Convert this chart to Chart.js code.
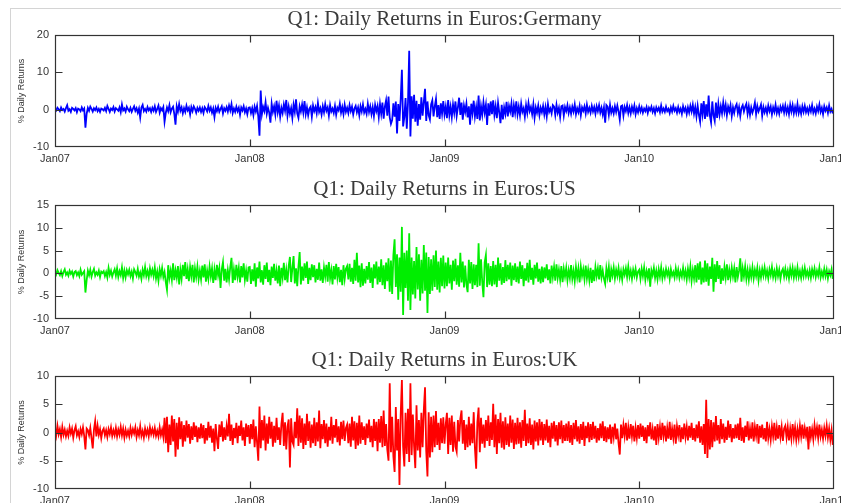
<!DOCTYPE html>
<html>
<head>
<meta charset="utf-8">
<script src="https://cdn.jsdelivr.net/npm/chart.js@4"></script>
<style>
  html, body { margin: 0; padding: 0; background: #fff; width: 841px; height: 503px; overflow: hidden; }
  #frame { position: absolute; left: 10px; top: 8px; width: 900px; height: 600px;
           border-left: 1px solid #d4d4d4; border-top: 1px solid #d4d4d4; }
  .panel { position: absolute; left: 0; width: 841px; height: 170px; }
  canvas { display: block; }
</style>
</head>
<body>
<div id="frame"></div>
<div class="panel" style="top:0px"><canvas id="c0" width="841" height="170"></canvas></div>
<div class="panel" style="top:170px"><canvas id="c1" width="841" height="170"></canvas></div>
<div class="panel" style="top:341px"><canvas id="c2" width="841" height="170"></canvas></div>
<script>
// Calendar ticks on the time axis (Jan 2007 .. Jan 2011), 160 samples per year
const xTickLabels = ['Jan07', 'Jan08', 'Jan09', 'Jan10', 'Jan11'];
const samplesPerYear = 160;

// % daily returns, two rows per quarter (40 samples per quarter)
const germanyReturns = [
  0.3,-0.2,0.5,0.1,-0.4,0.6,-0.1,0.2,-0.5,0.4,1.2,-0.3,0.1,-0.6,0.5,0.2,-0.2,0.4,-0.7,0.3,
  0.1,-0.4,0.6,-0.2,0.3,-4.8,-1.1,0.5,-0.3,0.8,0.2,-0.5,0.4,-0.1,0.6,-0.4,0.2,-0.6,0.3,0.1,
  -0.2,0.5,-0.4,1.0,0.2,-0.6,0.3,-0.1,0.7,-0.5,0.4,0.1,-0.3,0.6,-0.7,1.4,-0.2,0.3,-0.5,0.8,
  0.1,-0.4,0.5,-0.6,0.2,0.9,-0.3,0.4,-0.8,0.3,-2.1,0.6,1.3,-0.4,0.2,-0.5,0.7,-0.2,0.4,-0.6,
  0.5,-0.3,0.9,-0.6,0.2,1.1,-0.8,0.4,-0.2,0.7,-3.2,-0.9,0.6,-0.4,1.2,-0.7,0.3,0.8,-1.1,-4.0,
  0.9,-0.5,1.5,-0.3,0.6,-1.0,0.4,-0.6,1.1,-0.2,0.5,-1.3,0.7,-0.4,0.9,0.2,-0.8,0.5,-0.3,0.6,
  -0.6,0.4,-0.9,0.7,0.2,-0.5,1.0,-0.3,0.6,-0.8,0.3,-2.0,0.5,-0.4,0.8,-0.6,0.2,0.9,-1.0,0.4,
  -0.3,0.7,-0.5,1.1,-0.2,1.5,-0.9,0.3,-0.6,0.8,-0.4,0.5,-1.4,0.6,-0.2,0.9,-0.7,0.3,-1.2,0.5,
  0.6,-0.9,0.4,-1.5,0.8,-0.5,1.0,-1.8,-7.0,5.1,-1.2,0.7,-0.4,2.0,-1.1,0.5,-0.8,-3.5,1.6,-0.6,
  0.9,-1.3,2.4,-0.7,1.1,-1.9,0.5,-0.9,1.4,-0.3,2.6,-1.6,0.8,-1.1,0.4,-2.2,1.3,-0.6,2.8,-1.0,
  -2.2,0.9,-0.5,1.4,-0.8,2.3,-1.2,0.6,-1.5,0.3,0.8,-1.9,1.1,-0.4,0.7,-1.0,1.8,-0.6,0.4,-1.3,
  0.9,-0.7,1.5,-0.3,0.6,-1.6,1.2,-0.5,0.3,-0.9,1.0,-1.4,0.5,-0.2,1.6,-0.8,0.7,-1.2,1.3,-0.6,
  0.5,-0.9,1.2,-0.4,0.8,-1.3,0.3,1.0,-0.7,0.6,-1.5,0.9,-0.5,1.4,-0.8,0.2,-1.1,1.6,-0.6,0.9,
  -1.2,0.7,-1.7,1.3,-0.4,1.0,-2.0,1.5,-1.1,1.9,-2.4,0.8,2.5,-1.6,3.5,-2.1,-3.8,-2.8,1.7,-1.9,
  2.2,-6.4,1.5,-3.0,2.8,10.7,-4.5,-2.0,3.1,-5.1,1.8,15.8,-7.2,3.6,-2.4,4.0,-3.2,2.4,-4.3,1.5,
  -2.7,3.3,-1.6,2.1,5.6,-3.0,2.2,-1.5,-2.6,1.4,2.5,-1.8,0.9,2.9,-2.0,1.2,-2.5,1.7,-1.1,2.3,
  -1.3,0.8,-2.3,2.6,-1.5,0.8,-2.0,1.4,-0.9,2.2,-1.7,0.6,3.2,-1.4,1.9,-2.7,1.1,-0.6,1.6,-2.1,
  0.9,-4.0,1.6,-1.0,2.4,-1.8,0.7,-2.5,3.8,-2.9,0.9,-1.4,2.0,-0.8,1.3,-4.1,1.7,-1.6,2.2,-1.2,
  2.5,-1.4,0.9,-2.3,1.8,-0.7,-3.6,1.3,-2.6,0.6,-1.1,2.1,-1.8,1.0,-0.5,1.7,-2.0,1.2,-0.9,2.2,
  -1.3,0.8,-1.5,1.6,-0.6,0.4,-1.9,1.2,-0.9,1.8,-0.4,0.7,-1.2,1.4,-2.2,0.6,-0.8,1.1,-1.5,0.5,
  -0.7,1.0,-1.3,0.7,-1.8,1.5,-0.6,0.3,-1.0,1.2,0.8,-1.4,1.3,-0.8,0.5,-2.0,0.9,1.1,-1.6,0.7,
  -0.4,1.2,-0.9,0.6,-1.1,0.8,-0.5,1.4,-1.2,0.4,-0.7,1.0,-1.5,0.6,-0.3,0.9,-1.0,1.3,-0.6,0.5,
  -0.8,1.0,-0.5,0.7,-1.1,0.9,-0.4,1.2,-0.8,0.5,-1.3,0.6,-3.5,1.2,0.8,-1.4,1.3,-0.8,0.4,-1.0,
  0.9,-0.6,1.1,-0.5,-2.7,0.9,1.1,-1.6,0.7,-0.4,1.2,-0.9,0.6,-1.0,0.8,-0.5,1.1,-1.2,0.4,-0.7,
  0.9,-0.5,0.6,-0.8,0.3,-0.4,0.7,-0.9,0.5,-0.2,0.8,-0.6,0.4,-1.0,0.6,-0.3,0.5,-0.7,1.1,-0.5,
  0.3,-0.6,0.8,-0.4,0.2,-0.9,0.6,-0.5,1.0,-0.3,0.4,-0.8,0.7,-0.6,0.3,-1.1,0.9,-0.4,0.5,-1.2,
  0.6,-0.8,1.0,-0.5,1.3,-1.1,0.7,-1.8,1.0,-1.4,-3.2,1.7,-1.2,2.3,-2.5,1.4,-1.9,3.8,-1.6,-3.4,
  2.2,-1.5,-3.0,1.9,-2.2,1.5,-1.3,0.9,-1.0,1.9,-0.6,1.3,-1.5,0.8,-0.5,1.2,-1.7,0.6,-0.9,0.8,
  1.5,-0.9,0.7,-1.7,0.5,1.2,-0.5,0.8,1.6,-1.1,0.9,-1.4,0.6,-0.8,0.3,1.9,-1.2,1.0,-0.5,0.4,
  1.4,-1.6,0.7,-0.7,0.5,-1.0,1.1,-0.4,0.8,-1.3,0.6,-0.6,1.3,-0.9,0.4,-1.1,0.8,-0.3,1.0,-0.8,
  1.1,-0.8,0.6,-1.2,1.3,-0.5,1.2,-1.0,0.7,-0.8,1.5,-0.9,0.5,-1.1,0.9,-0.6,1.0,-0.7,0.4,-0.9,
  0.7,-0.5,1.2,-0.8,0.3,-1.0,0.8,-0.4,1.4,-0.6,0.5,-1.2,0.9,-0.3,0.6,-0.9,1.1,-0.5,0.2,-1.0
];

const usReturns = [
  0.4,-0.2,0.7,0.1,-0.4,0.5,-0.6,0.3,0.9,-0.3,0.2,-0.5,0.6,-0.1,0.4,-0.7,0.3,0.5,-0.4,0.2,
  -0.6,0.8,-0.3,0.1,0.5,-4.2,-1.5,0.6,-0.4,0.8,-0.7,0.3,1.0,-0.5,0.2,-0.3,0.6,-0.8,0.4,0.1,
  0.5,-0.6,0.3,-0.9,1.2,-0.3,0.6,-0.7,0.2,0.9,-0.5,1.1,-0.8,0.5,-0.4,1.3,-1.0,0.6,-0.9,0.7,
  -0.2,0.8,-0.6,0.4,-1.1,0.9,0.3,-0.5,1.0,-0.7,0.2,-1.2,0.8,-0.4,1.4,-0.6,0.5,-0.9,1.1,-0.3,
  0.8,-0.6,1.3,-1.1,0.4,-1.6,0.9,-0.5,1.2,-0.8,0.3,-1.9,-3.6,1.8,-1.0,0.6,-1.4,2.2,-1.5,0.7,
  -0.9,1.6,-2.4,0.8,-1.2,1.9,-0.6,2.5,-1.2,0.9,-1.7,1.4,-0.6,1.9,-2.0,1.1,-0.8,1.5,-1.3,0.6,
  -1.3,1.7,-0.9,2.0,-1.8,0.6,-1.2,1.5,-0.7,1.1,-2.1,0.8,-1.5,1.9,-0.4,1.2,-3.2,0.9,2.5,-1.6,
  1.0,-2.0,0.7,-1.3,1.4,3.4,-2.1,0.8,-1.5,1.9,-0.7,1.2,-2.0,1.6,-0.9,2.2,-1.4,0.6,-1.8,1.3,
  1.4,-2.3,0.9,-1.7,2.2,-2.9,1.3,-1.1,2.6,-2.0,0.7,-2.5,1.8,-1.2,2.4,-1.9,0.8,-2.6,1.5,-1.0,
  2.1,-1.6,0.6,-2.2,1.7,-2.8,1.2,-0.9,2.3,-1.5,0.8,-2.0,1.6,3.6,-1.9,1.1,3.8,-2.2,1.1,-2.8,
  1.5,4.7,-2.4,1.5,-1.6,2.2,-1.0,2.6,-2.3,1.2,-1.5,2.0,-0.8,1.8,-2.0,1.0,-1.4,2.4,-1.6,0.9,
  -2.1,1.3,-0.7,1.9,-1.8,2.5,-1.1,0.7,-2.4,1.6,-1.3,2.1,-0.9,1.4,-1.9,0.8,-2.6,1.8,-1.2,1.0,
  1.6,-1.3,2.1,-1.8,1.2,-2.3,3.0,-1.6,4.5,-2.0,1.7,-3.0,2.2,-2.7,1.0,-2.2,1.6,-1.4,2.5,-2.1,
  1.3,-3.2,2.0,-1.1,2.6,-2.4,1.5,-1.9,3.1,-2.6,1.8,-3.4,2.4,-1.7,3.3,-4.0,2.8,-4.5,4.0,7.5,
  -3.0,4.2,-5.8,3.5,-4.0,10.2,-9.1,4.5,-3.2,5.0,-6.0,8.8,-8.0,3.5,-4.6,2.7,-5.5,5.8,-3.5,4.2,
  -6.0,3.0,-4.4,6.2,-3.8,4.6,-8.7,3.6,-4.5,3.1,-3.8,4.0,-3.0,5.0,-3.6,2.6,-4.2,3.4,-2.8,3.9,
  -3.3,2.4,-2.8,3.5,-2.2,1.9,-3.6,2.8,-1.7,3.2,-2.5,1.8,-2.9,4.5,-2.0,2.6,-3.1,1.7,-2.4,-4.1,
  3.0,-2.2,2.5,-3.4,2.0,-2.6,1.9,-3.0,6.6,-2.7,3.1,-1.9,-5.2,2.4,4.0,-3.0,2.2,-2.5,1.6,-2.8,
  2.7,-2.4,1.9,-3.0,3.5,-1.6,2.2,-2.5,1.4,-2.1,2.9,-1.7,1.9,-1.3,2.4,-2.7,1.7,-1.5,2.2,-1.9,
  1.5,-2.2,2.6,-1.2,1.8,-2.8,1.1,-1.6,2.3,-2.0,3.0,-1.4,1.2,-2.5,1.9,-1.1,2.4,-1.8,1.0,-2.2,
  1.5,-1.9,1.3,-1.1,2.0,-1.5,0.9,-2.2,1.7,-0.8,1.4,-1.6,2.0,-1.0,0.8,-1.4,1.6,-1.9,1.0,-0.7,
  1.2,-1.5,0.7,-1.0,1.8,-1.2,0.6,-1.7,1.4,-0.9,1.1,-2.0,1.5,-0.6,0.9,-1.3,1.7,-1.1,0.8,-1.5,
  1.2,-2.1,0.8,-1.7,1.4,-0.6,1.1,-1.3,1.8,-0.9,0.6,-1.2,-2.3,1.1,-0.8,1.4,-1.9,0.9,-0.5,1.3,
  -1.1,0.8,-0.6,1.2,-1.0,0.5,-1.4,0.9,-0.3,1.1,-0.8,1.5,-0.7,0.6,-1.2,0.8,-0.5,1.0,-0.9,0.4,
  0.8,-1.2,1.0,-0.6,1.3,-1.4,0.5,-0.9,1.1,-2.9,0.7,-0.4,1.2,-1.0,0.6,-1.3,0.9,-0.7,1.3,-1.1,
  0.5,-0.8,1.0,-0.4,0.7,-1.2,0.9,-0.5,0.3,-0.9,1.1,-0.6,0.8,-1.0,0.4,-0.7,1.2,-0.8,0.6,-1.3,
  1.0,-0.8,1.5,-1.6,0.7,-1.1,1.8,-2.0,2.2,-1.4,2.6,-2.4,1.3,-2.0,2.8,-1.8,2.2,-2.7,1.5,-1.2,
  3.4,-4.0,2.0,-1.9,2.7,-1.2,1.8,-2.3,1.1,-1.6,1.4,-0.9,2.0,-1.5,0.8,-1.0,1.3,-0.7,1.1,-2.0,
  1.4,-0.8,0.6,3.3,-1.8,1.1,-0.7,1.5,-1.2,0.8,-1.4,0.9,-0.8,1.3,-1.1,0.8,-0.6,1.2,-1.5,0.7,
  -0.9,1.0,-0.5,1.3,-0.7,0.6,-1.1,0.9,-0.4,1.4,-0.8,0.5,-1.0,1.1,-0.6,0.8,-1.2,0.4,1.0,-0.7,
  1.0,-0.7,0.6,-1.1,1.1,-0.5,1.2,-0.9,0.8,-0.7,1.3,-0.8,0.5,-1.0,0.9,-0.6,1.2,-0.6,0.5,-0.8,
  0.7,-1.0,0.9,-0.4,1.1,-0.8,0.6,-0.5,1.3,-0.9,0.4,-0.7,1.0,-0.6,0.8,-1.1,0.5,-0.4,0.9,-1.2
];

const ukReturns = [
  0.8,-0.5,1.2,-0.3,0.6,-0.8,1.0,-0.4,0.5,-0.7,0.3,-0.6,0.9,-0.2,0.7,-0.9,0.4,1.1,-0.5,0.2,
  -0.8,0.6,-0.3,0.9,-0.6,-3.0,0.7,0.4,-0.5,0.8,-1.0,-2.8,0.5,2.0,-0.7,1.2,-0.4,0.6,-1.0,0.3,
  0.7,-0.5,0.4,-0.8,0.6,-0.3,0.9,-0.6,0.4,-0.5,0.8,-0.7,0.5,-0.4,1.0,-0.5,0.7,-0.9,0.5,-0.6,
  0.3,-0.7,0.8,-0.4,0.6,-0.2,0.9,-0.8,0.4,-0.5,1.1,-0.6,0.3,-0.9,0.7,-0.4,0.5,-0.7,0.9,-0.3,
  0.6,-0.4,0.8,-0.6,0.3,-0.7,0.9,-0.5,0.5,-0.8,2.6,-1.9,2.8,-3.5,1.4,-2.2,3.0,-1.6,2.4,-4.3,
  1.7,-3.0,2.7,-1.2,2.0,-2.5,1.3,-1.6,2.1,-0.9,1.5,-2.0,1.1,-1.3,1.8,-0.8,1.2,-1.7,0.9,-1.1,
  1.6,-1.0,1.3,-2.0,0.8,-1.4,1.9,-0.9,1.2,-1.8,0.7,-3.3,1.5,-1.1,-2.9,1.4,-0.8,2.0,-1.6,0.9,
  -1.3,1.1,-0.7,3.3,-1.5,1.4,-2.2,0.8,-1.0,1.7,-1.9,1.2,-0.6,2.1,-1.4,0.9,-2.4,1.6,-0.8,1.3,
  -2.0,1.5,-1.2,2.3,-2.6,1.1,-1.8,-5.0,4.6,-2.8,2.2,-1.4,3.0,-3.2,1.6,-2.0,2.8,-1.1,1.9,-2.5,
  1.2,-1.8,2.6,-1.3,0.9,-2.2,1.5,3.5,-2.4,1.8,-3.0,1.0,2.3,-6.2,2.5,-1.6,-2.2,1.9,-1.0,4.3,
  -2.4,3.0,-1.8,2.5,-2.9,1.6,-2.2,3.3,-1.5,2.0,-2.7,1.4,-1.9,2.6,-2.4,1.8,-1.6,3.9,-2.8,1.5,
  -1.2,2.2,-1.9,1.6,-2.5,1.0,-1.4,2.8,-2.0,1.3,-0.9,2.4,-1.7,1.1,-2.3,1.9,-1.2,2.1,-1.5,0.8,
  1.4,-1.9,1.6,-2.5,2.8,-1.4,2.0,-2.9,1.7,-2.3,3.0,-2.0,1.8,-1.3,1.1,-2.2,1.6,-1.0,2.3,-1.7,
  1.2,-2.6,2.4,-1.5,1.9,-3.3,2.4,-1.8,2.9,-2.6,3.9,-2.4,1.5,-3.0,-5.0,8.7,-3.5,2.8,-4.2,-7.0,
  4.5,-3.2,2.4,-9.3,3.1,9.3,-2.5,-6.0,3.5,-3.8,4.2,-5.2,8.7,-4.0,3.2,-2.4,-6.3,4.8,-3.2,2.2,
  -4.4,3.5,-2.6,4.0,8.0,-3.3,-7.8,3.6,-4.4,2.8,-3.5,3.0,-2.6,3.8,-2.2,1.7,-3.1,2.5,-1.9,2.7,
  -2.0,1.4,3.5,-3.8,2.6,-2.2,3.0,-3.4,1.9,-2.5,-3.4,2.2,-1.6,2.4,3.9,-2.0,2.2,-3.1,1.4,-2.6,
  2.8,-2.3,1.6,-1.9,3.6,-2.8,-6.4,1.8,4.4,-3.5,2.6,-2.0,1.4,-2.7,2.2,-1.5,3.0,-2.4,1.8,-1.3,
  5.1,-2.6,3.2,-3.8,2.4,-1.9,3.5,-2.7,2.0,-3.0,2.7,-2.2,1.6,-2.5,3.0,-1.8,2.3,-2.9,1.7,-2.1,
  2.6,-2.0,1.8,-2.7,2.2,-1.5,4.0,-2.4,1.6,-1.9,2.5,-2.2,1.4,-3.0,2.1,-1.6,1.8,-2.3,2.4,-1.4,
  1.9,-2.2,1.5,-1.4,2.3,-1.8,1.2,-2.6,1.7,-1.1,2.0,-1.6,1.3,-2.3,1.8,-1.2,2.1,-1.9,1.3,-1.5,
  1.6,-1.5,2.0,-1.8,1.3,-2.2,1.7,-1.2,2.2,-1.6,1.1,-2.0,1.5,-1.3,1.9,-2.4,1.2,-1.0,1.8,-1.7,
  1.5,-1.3,1.9,-1.1,1.2,-1.8,0.8,-1.4,1.6,-1.0,2.0,-1.5,1.1,-1.7,0.9,-1.2,1.4,-2.0,1.0,-0.8,
  1.6,-1.2,0.7,-1.9,-3.9,1.4,-1.0,1.3,-0.6,1.7,-1.4,0.9,-1.1,1.5,-0.7,1.2,-1.6,0.8,-1.0,1.3,
  -1.1,1.6,-0.8,1.2,-1.5,0.9,-1.9,1.3,-0.7,1.8,-1.2,0.6,-1.4,1.1,-2.2,1.5,-0.9,1.0,-1.3,1.7,
  -0.6,1.2,-1.6,0.8,-1.1,1.9,-1.3,0.7,-1.0,1.4,-2.0,1.1,-0.5,1.3,-1.7,0.9,-1.2,1.6,-0.8,1.0,
  -1.4,1.2,-0.9,1.7,-1.3,0.8,-1.6,1.4,-1.0,2.0,-1.8,1.1,-2.2,1.5,-3.8,5.8,-4.5,2.4,-3.0,2.2,
  -2.6,1.8,-1.6,2.9,-1.4,1.3,-2.0,2.4,-1.2,1.6,-1.8,1.0,-1.3,2.1,-0.9,1.5,-1.7,0.8,-1.1,1.4,
  -1.0,1.6,-1.3,2.6,-1.5,0.9,-1.8,1.2,-0.8,2.0,-1.4,0.7,-1.1,1.8,-1.6,1.0,-0.6,1.5,-2.0,1.2,
  -0.9,1.4,-1.2,0.8,-1.6,1.9,-1.0,0.6,-1.3,1.1,-0.7,1.7,-1.4,0.9,-1.1,1.3,-0.8,1.0,-1.5,0.7,
  1.2,-0.9,1.0,-1.4,0.7,-1.1,1.5,-0.8,0.9,-1.3,0.6,-1.0,1.2,-0.7,1.4,-1.1,0.8,-0.6,1.0,-3.0,
  1.1,-0.8,0.6,-1.2,1.3,-0.5,0.9,-1.0,1.4,-0.7,0.5,-1.1,0.8,-0.6,1.2,-0.9,0.7,-1.3,0.4,-2.2
];

// Panel settings: title, series, colour, y range and step
const panels = [
  { canvas: 'c0', title: 'Q1: Daily Returns in Euros:Germany', values: germanyReturns, color: '#0000ff', yMin: -10, yMax: 20, yStep: 10, xAxisHeight: 23 },
  { canvas: 'c1', title: 'Q1: Daily Returns in Euros:US',      values: usReturns,      color: '#00ee00', yMin: -10, yMax: 15, yStep: 5,  xAxisHeight: 21 },
  { canvas: 'c2', title: 'Q1: Daily Returns in Euros:UK',      values: ukReturns,      color: '#ff0000', yMin: -10, yMax: 10, yStep: 5,  xAxisHeight: 22 }
];

const axisColor = '#333';
const tickFont = { family: 'Liberation Sans, Arial, sans-serif', size: 11 };

// Closed axes box with short inward tick marks on all four sides
const boxTicks = {
  id: 'boxTicks',
  afterDatasetsDraw(chart) {
    const { ctx, chartArea: a, scales: { x, y } } = chart;
    const L = Math.round(a.left) + 0.5, R = Math.round(a.right) - 0.5;
    const T = Math.round(a.top) + 0.5, B = Math.round(a.bottom) - 0.5;
    const len = 7;
    ctx.save();
    ctx.strokeStyle = axisColor;
    ctx.lineWidth = 1.2;
    ctx.strokeRect(L, T, R - L, B - T);
    ctx.beginPath();
    x.ticks.forEach(t => {
      const px = Math.round(x.getPixelForValue(t.value)) + 0.5;
      if (px <= L + 1 || px >= R - 1) return;
      ctx.moveTo(px, B); ctx.lineTo(px, B - len);
      ctx.moveTo(px, T); ctx.lineTo(px, T + len);
    });
    y.ticks.forEach(t => {
      const py = Math.round(y.getPixelForValue(t.value)) + 0.5;
      if (py <= T + 1 || py >= B - 1) return;
      ctx.moveTo(L, py); ctx.lineTo(L + len, py);
      ctx.moveTo(R, py); ctx.lineTo(R - len, py);
    });
    ctx.stroke();
    ctx.restore();
  }
};

panels.forEach(p => {
  const nYears = xTickLabels.length - 1;
  new Chart(document.getElementById(p.canvas), {
    type: 'line',
    data: {
      datasets: [{
        data: p.values.map((v, i) => ({ x: i, y: v })),
        borderColor: p.color,
        borderWidth: 1.8,
        pointRadius: 0,
        tension: 0
      }]
    },
    options: {
      responsive: false,
      animation: false,
      events: [],
      layout: { autoPadding: false, padding: { left: 0, right: 7, top: 0, bottom: 0 } },
      plugins: {
        legend: { display: false },
        tooltip: { enabled: false },
        title: {
          display: true,
          fullSize: false,
          text: p.title,
          color: '#3a3a3a',
          font: { family: 'Liberation Serif, Times New Roman, serif', size: 21, weight: 'normal', lineHeight: 1.2 },
          padding: { top: 7, bottom: 2.8 }
        }
      },
      scales: {
        x: {
          type: 'linear',
          min: 0,
          max: nYears * samplesPerYear,
          grid: { display: false, drawTicks: false },
          border: { display: false },
          afterFit: s => { s.height = p.xAxisHeight; s.paddingLeft = 0; s.paddingRight = 0; },
          afterBuildTicks: s => {
            s.ticks = xTickLabels.map((_, k) => ({ value: k * samplesPerYear }));
          },
          ticks: {
            autoSkip: false,
            maxRotation: 0,
            padding: 5,
            color: axisColor,
            font: tickFont,
            callback: (v) => xTickLabels[Math.round(v / samplesPerYear)]
          }
        },
        y: {
          min: p.yMin,
          max: p.yMax,
          grid: { display: false, drawTicks: false },
          border: { display: false },
          afterFit: s => { s.width = 55; s.paddingTop = 0; s.paddingBottom = 0; },
          ticks: { stepSize: p.yStep, padding: 6, color: axisColor, font: tickFont },
          title: {
            display: true,
            text: '% Daily Returns',
            color: axisColor,
            font: { family: 'Liberation Sans, Arial, sans-serif', size: 9 },
            padding: { top: 16, bottom: 0 }
          }
        }
      }
    },
    plugins: [boxTicks]
  });
});
</script>
</body>
</html>
